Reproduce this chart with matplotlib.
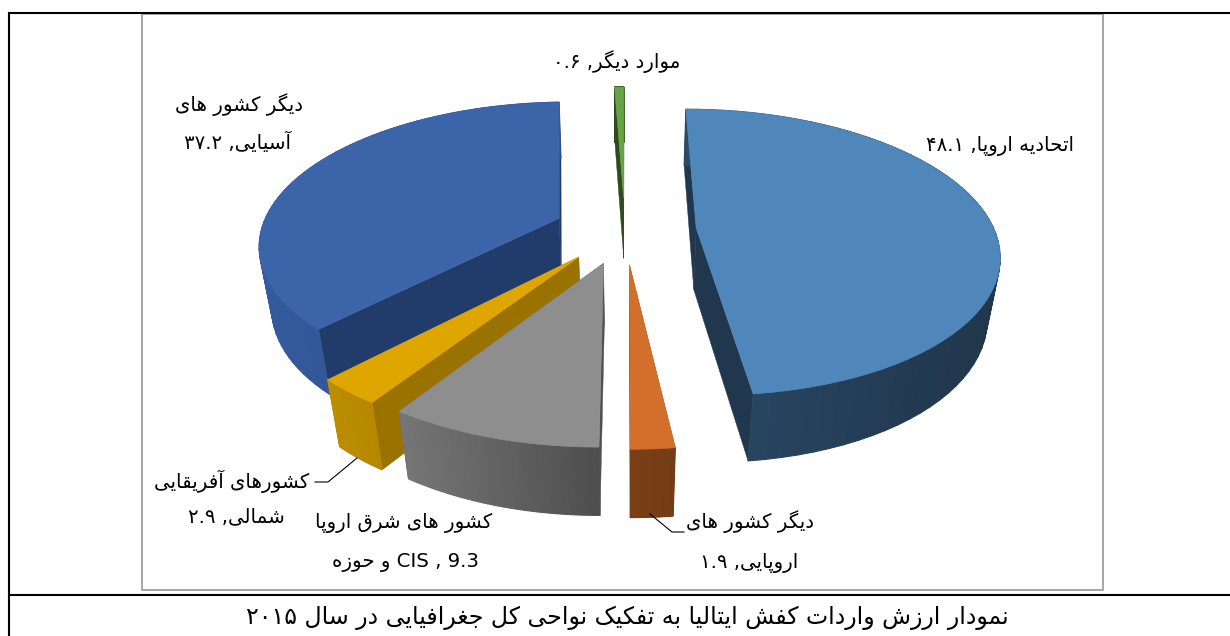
import re
import numpy as np
import matplotlib
matplotlib.use('Agg')
import matplotlib.pyplot as plt
from matplotlib.patches import Polygon
from matplotlib.colors import to_rgb

# Datos
regiones = ['EU', 'Otros Europa', 'Este Europa', 'Norte Africa', 'Asia', 'Otros']
valores = [48.1, 1.9, 9.3, 2.9, 37.2, 0.6]
orden_dibujo = [4, 5, 0, 3, 2, 1]

etiquetas = [
    ['اتحادیه اروپا, ۴۸.۱'],
    ['دیگر کشور های', 'اروپایی, ۱.۹'],
    ['کشور های شرق اروپا', 'CIS , 9.3 و حوزه'],
    ['کشورهای آفریقایی', 'شمالی, ۲.۹'],
    ['دیگر کشور های', 'آسیایی, ۳۷.۲'],
    ['موارد دیگر, ۰.۶'],
]
titulo = 'نمودار ارزش واردات کفش ایتالیا به تفکیک نواحی کل جغرافیایی در سال ۲۰۱۵'

# colores: cara superior, pared radial, pared exterior izq / der
col_top = ['#4F87BA', '#D2702B', '#8E8E8E', '#E0A600', '#3C64A9', '#68A345']
col_rad = ['#20374D', '#7A3F17', '#505050', '#9A7200', '#213C6B', '#2E4A1E']
col_izq = ['#2B4A68', '#7A3F17', '#767676', '#BC8D00', '#345A9C', '#2E4A1E']
col_der = ['#20364B', '#743C16', '#4E4E4E', '#B58800', '#2E5088', '#2E4A1E']

# Formas de presentacion: aislada, final, inicial, medial
FORMAS = {
    'ا': (0xFE8D, 0xFE8E), 'آ': (0xFE81, 0xFE82), 'د': (0xFEA9, 0xFEAA),
    'ر': (0xFEAD, 0xFEAE), 'ز': (0xFEAF, 0xFEB0), 'و': (0xFEED, 0xFEEE),
    'ب': (0xFE8F, 0xFE90, 0xFE91, 0xFE92), 'پ': (0xFB56, 0xFB57, 0xFB58, 0xFB59),
    'ت': (0xFE95, 0xFE96, 0xFE97, 0xFE98), 'ج': (0xFE9D, 0xFE9E, 0xFE9F, 0xFEA0),
    'ح': (0xFEA1, 0xFEA2, 0xFEA3, 0xFEA4), 'س': (0xFEB1, 0xFEB2, 0xFEB3, 0xFEB4),
    'ش': (0xFEB5, 0xFEB6, 0xFEB7, 0xFEB8), 'ع': (0xFEC9, 0xFECA, 0xFECB, 0xFECC),
    'غ': (0xFECD, 0xFECE, 0xFECF, 0xFED0), 'ف': (0xFED1, 0xFED2, 0xFED3, 0xFED4),
    'ق': (0xFED5, 0xFED6, 0xFED7, 0xFED8), 'ک': (0xFB8E, 0xFB8F, 0xFB90, 0xFB91),
    'گ': (0xFB92, 0xFB93, 0xFB94, 0xFB95), 'ل': (0xFEDD, 0xFEDE, 0xFEDF, 0xFEE0),
    'م': (0xFEE1, 0xFEE2, 0xFEE3, 0xFEE4), 'ن': (0xFEE5, 0xFEE6, 0xFEE7, 0xFEE8),
    'ه': (0xFEE9, 0xFEEA, 0xFEEB, 0xFEEC), 'ی': (0xFBFC, 0xFBFD, 0xFBFE, 0xFBFF),
}
TRAMO_LTR = r'([A-Za-z0-9۰-۹.](?:[A-Za-z0-9۰-۹., ]*[A-Za-z0-9۰-۹.])?)'


def persa(texto):
    # matplotlib no une letras ni hace RTL, se hace aqui
    salida = ''
    for i, c in enumerate(texto):
        if c not in FORMAS:
            salida += c
            continue
        f = FORMAS[c]
        prev = texto[i - 1] if i > 0 else ''
        sig = texto[i + 1] if i + 1 < len(texto) else ''
        une_prev = prev in FORMAS and len(FORMAS[prev]) == 4
        une_sig = sig in FORMAS and len(f) == 4
        if une_prev and une_sig:
            salida += chr(f[3])
        elif une_prev:
            salida += chr(f[1])
        elif une_sig:
            salida += chr(f[2])
        else:
            salida += chr(f[0])
    partes = re.split(TRAMO_LTR, salida)
    partes = [p if k % 2 else p[::-1] for k, p in enumerate(partes)]
    return ''.join(partes[::-1])


# Perspectiva del pastel
cx, cy = 625, 230
R, K = 298, 139.6
p, q = 0.17, 0.035
T = 64
expl = 0.24
n_seg = 60


def proyecta(u, v, z=0.0):
    w = 1 + p * v + q * z
    return cx + R * u / w, cy - (K * v - T * z) / w


def mezcla(c1, c2, t):
    a, b = np.array(to_rgb(c1)), np.array(to_rgb(c2))
    return tuple(a + (b - a) * t)


fig = plt.figure(figsize=(12.3, 6.36), dpi=100)
ax = fig.add_axes([0, 0, 1, 1])
ax.set_xlim(0, 1230)
ax.set_ylim(636, 0)
ax.axis('off')

# Marcos
ax.plot([142, 1103, 1103, 142, 142], [14, 14, 590, 590, 14], color='#A6A6A6', lw=1.4)
ax.plot([9, 1230], [13, 13], color='black', lw=1.5)
ax.plot([9, 1230], [594.5, 594.5], color='black', lw=1.5)
ax.plot([9, 9], [13, 636], color='black', lw=1.5)

frac = np.cumsum([0] + valores) / sum(valores) * 2 * np.pi

for i in orden_dibujo:
    a0, a1 = frac[i], frac[i + 1]
    med = (a0 + a1) / 2
    eu, ev = expl * np.sin(med), expl * np.cos(med)
    angs = np.linspace(a0, a1, n_seg + 1)
    us = eu + np.sin(angs)
    vs = ev + np.cos(angs)

    # paredes radiales
    for ua, va in [(us[0], vs[0]), (us[-1], vs[-1])]:
        pared = [proyecta(eu, ev), proyecta(ua, va), proyecta(ua, va, 1), proyecta(eu, ev, 1)]
        ax.add_patch(Polygon(pared, closed=True, fc=col_rad[i], ec=col_rad[i], lw=0.3))

    # pared exterior, por tramos, con degradado horizontal
    xs = np.array([proyecta(u, v)[0] for u, v in zip(us, vs)])
    for k in range(n_seg):
        t = (xs[k] - xs.min()) / max(xs.max() - xs.min(), 1)
        color = mezcla(col_izq[i], col_der[i], t)
        quad = [proyecta(us[k], vs[k]), proyecta(us[k + 1], vs[k + 1]),
                proyecta(us[k + 1], vs[k + 1], 1), proyecta(us[k], vs[k], 1)]
        ax.add_patch(Polygon(quad, closed=True, fc=color, ec=color, lw=0.8, joinstyle='round'))

    # cara superior
    sup = [proyecta(eu, ev)] + [proyecta(u, v) for u, v in zip(us, vs)]
    ax.add_patch(Polygon(sup, closed=True, fc=col_top[i], ec=col_top[i], lw=0.5))

# Lineas guia
ax.plot([650, 672, 684], [514, 532, 532], color='black', lw=0.8)
ax.plot([357, 328, 315], [458, 482, 482], color='black', lw=0.8)

# Etiquetas: posicion (x centro, y) por linea
pos_etq = [
    [(1000, 146)],
    [(750, 522), (749, 563)],
    [(404, 523), (406, 563)],
    [(232, 481), (236, 517)],
    [(239, 105), (238, 142)],
    [(617, 62)],
]
for i in range(len(regiones)):
    for linea, (x, y) in zip(etiquetas[i], pos_etq[i]):
        ax.text(x, y, persa(linea), ha='center', va='center', fontsize=14.2,
                family='DejaVu Sans', color='black')

ax.text(627, 618, persa(titulo), ha='center', va='center', fontsize=17,
        family='DejaVu Sans', color='black')

fig.savefig('out.png', dpi=100)
